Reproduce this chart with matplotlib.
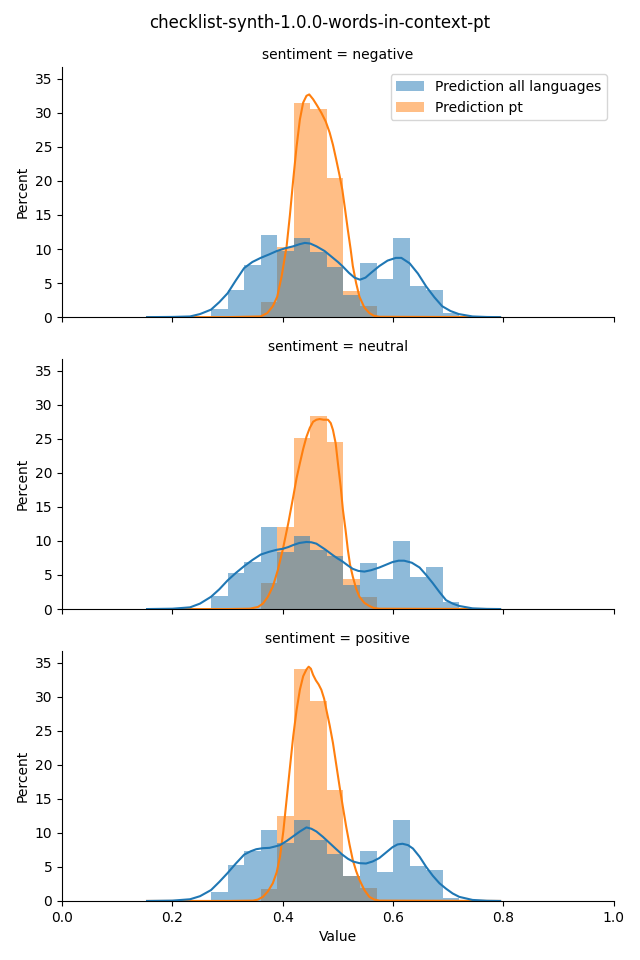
import numpy as np
import matplotlib
matplotlib.use("Agg")
import matplotlib.pyplot as plt
from matplotlib.patches import Patch

# shared histogram bins (width 0.03 from 0.27 to 0.72)
bin_edges = [0.27, 0.30, 0.33, 0.36, 0.39, 0.42, 0.45, 0.48, 0.51,
             0.54, 0.57, 0.60, 0.63, 0.66, 0.69, 0.72]

panels = ["negative", "neutral", "positive"]
series_labels = ["Prediction all languages", "Prediction pt"]

# percent per bin
all_neg = [1.2, 4.0, 7.7, 12.0, 9.7, 11.6, 9.5, 7.3, 3.2, 8.0, 5.6, 11.6, 4.5, 4.0, 0.6]
pt_neg = [0, 0, 0, 2.2, 10.3, 31.5, 30.5, 20.5, 3.8, 1.6, 0, 0, 0, 0, 0]
all_neu = [1.9, 5.3, 6.9, 12.1, 8.4, 10.7, 8.7, 7.8, 3.6, 6.8, 4.4, 10.0, 4.7, 6.2, 1.0]
pt_neu = [0, 0, 0, 3.8, 12.1, 25.1, 28.4, 24.6, 4.4, 1.7, 0, 0, 0, 0, 0]
all_pos = [1.3, 5.3, 7.4, 10.4, 8.5, 11.9, 9.0, 6.9, 3.7, 7.4, 4.3, 11.9, 5.2, 4.6, 0.4]
pt_pos = [0, 0, 0, 1.8, 12.5, 34.0, 29.4, 16.3, 3.7, 1.9, 0, 0, 0, 0, 0]

# density curves (x, percent)
kde_all_neg_x = [0.154, 0.2, 0.232, 0.25, 0.27, 0.285, 0.30, 0.315, 0.33, 0.345, 0.36, 0.375,
                 0.389, 0.404, 0.419, 0.43, 0.44, 0.45, 0.461, 0.476, 0.491, 0.50, 0.508, 0.52,
                 0.53, 0.54, 0.55, 0.56, 0.575, 0.59, 0.605, 0.615, 0.63, 0.645, 0.66, 0.675,
                 0.689, 0.704, 0.719, 0.744, 0.77, 0.794]
kde_all_neg_y = [0, 0.03, 0.1, 0.45, 1.1, 2.2, 3.5, 5.4, 7.2, 8.1, 8.7, 9.2,
                 9.7, 10.1, 10.4, 10.7, 10.9, 10.8, 10.4, 9.7, 8.7, 8.1, 7.5, 6.5,
                 5.8, 5.5, 5.8, 6.5, 7.5, 8.3, 8.7, 8.7, 7.9, 6.4, 4.5, 2.9,
                 1.6, 0.9, 0.45, 0.1, 0.02, 0]
kde_pt_neg_x = [0.154, 0.30, 0.36, 0.372, 0.382, 0.39, 0.398, 0.407, 0.413, 0.419, 0.425,
                0.431, 0.437, 0.443, 0.448, 0.455, 0.462, 0.47, 0.478, 0.485, 0.491, 0.497,
                0.503, 0.508, 0.513, 0.518, 0.523, 0.527, 0.533, 0.539, 0.548, 0.557, 0.565,
                0.575, 0.794]
kde_pt_neg_y = [0, 0, 0.1, 0.6, 1.6, 3.0, 6.0, 10.4, 15.0, 20.2, 25.0,
                29.0, 31.5, 32.5, 32.7, 32.0, 31.1, 30.0, 28.7, 27.1, 25.3, 23.1,
                20.8, 18.7, 15.8, 12.8, 10.0, 7.5, 5.0, 3.0, 1.4, 0.6, 0.2,
                0.05, 0]

kde_all_neu_x = [0.154, 0.2, 0.232, 0.25, 0.27, 0.285, 0.30, 0.315, 0.33, 0.345, 0.36, 0.375,
                 0.389, 0.40, 0.41, 0.419, 0.43, 0.443, 0.452, 0.461, 0.476, 0.491, 0.50,
                 0.508, 0.518, 0.527, 0.537, 0.548, 0.56, 0.575, 0.587, 0.599, 0.61, 0.62,
                 0.634, 0.648, 0.66, 0.672, 0.684, 0.696, 0.708, 0.72, 0.744, 0.77, 0.794]
kde_all_neu_y = [0, 0.05, 0.25, 0.8, 1.8, 2.9, 4.2, 5.3, 6.3, 7.2, 8.0, 8.4,
                 8.7, 8.85, 9.1, 9.4, 9.7, 9.85, 9.8, 9.6, 8.8, 7.9, 7.4,
                 7.0, 6.4, 5.9, 5.6, 5.5, 5.7, 6.1, 6.5, 6.9, 7.1, 7.1,
                 6.8, 6.1, 5.0, 3.8, 2.5, 1.3, 0.8, 0.45, 0.1, 0.02, 0]
kde_pt_neu_x = [0.154, 0.30, 0.34, 0.355, 0.364, 0.373, 0.382, 0.391, 0.40, 0.41, 0.419,
                0.425, 0.431, 0.437, 0.443, 0.449, 0.455, 0.461, 0.467, 0.474, 0.482, 0.487,
                0.491, 0.496, 0.50, 0.505, 0.509, 0.514, 0.518, 0.522, 0.527, 0.533, 0.539,
                0.548, 0.557, 0.565, 0.575, 0.794]
kde_pt_neu_y = [0, 0, 0.05, 0.3, 0.8, 1.8, 3.3, 5.7, 8.7, 12.6, 16.5,
                19.2, 21.4, 23.5, 25.3, 26.6, 27.5, 27.8, 27.9, 27.8, 27.8, 27.3,
                26.3, 24.3, 21.4, 18.0, 14.6, 11.5, 8.7, 6.5, 4.75, 3.0, 1.8,
                0.9, 0.45, 0.15, 0.05, 0]

kde_all_pos_x = [0.154, 0.2, 0.232, 0.25, 0.27, 0.285, 0.30, 0.315, 0.33, 0.342, 0.352, 0.364,
                 0.376, 0.386, 0.395, 0.407, 0.419, 0.431, 0.443, 0.452, 0.461, 0.473, 0.485,
                 0.497, 0.508, 0.518, 0.527, 0.539, 0.551, 0.563, 0.575, 0.587, 0.599, 0.608,
                 0.617, 0.627, 0.636, 0.648, 0.66, 0.672, 0.684, 0.696, 0.708, 0.72, 0.744,
                 0.77, 0.794]
kde_all_pos_y = [0, 0.05, 0.25, 0.7, 1.6, 2.8, 4.1, 5.5, 6.8, 7.3, 7.6, 7.75,
                 7.8, 8.0, 8.2, 8.8, 9.5, 10.2, 10.8, 10.6, 10.2, 9.4, 8.5,
                 7.6, 6.8, 6.2, 5.8, 5.55, 5.5, 5.8, 6.3, 7.1, 7.9, 8.3,
                 8.4, 8.2, 7.7, 6.5, 5.0, 3.7, 2.6, 1.8, 1.1, 0.6, 0.15,
                 0.03, 0]
kde_pt_pos_x = [0.154, 0.30, 0.346, 0.355, 0.364, 0.373, 0.382, 0.389, 0.395, 0.401, 0.407,
                0.413, 0.419, 0.425, 0.431, 0.437, 0.443, 0.447, 0.451, 0.455, 0.46, 0.465,
                0.47, 0.475, 0.479, 0.485, 0.491, 0.497, 0.503, 0.509, 0.515, 0.521, 0.527,
                0.533, 0.539, 0.548, 0.557, 0.566, 0.575, 0.794]
kde_pt_pos_y = [0, 0, 0.05, 0.2, 0.6, 1.4, 2.6, 4.2, 6.5, 10.2, 14.9,
                19.6, 24.2, 28.0, 31.0, 33.0, 34.0, 34.4, 34.1, 33.2, 32.4, 31.8,
                31.0, 29.7, 28.1, 25.8, 23.2, 20.0, 16.8, 13.8, 10.9, 8.3, 6.0,
                4.4, 3.1, 1.6, 0.6, 0.2, 0.05, 0]

hist_all = [all_neg, all_neu, all_pos]
hist_pt = [pt_neg, pt_neu, pt_pos]
kde_all = [(kde_all_neg_x, kde_all_neg_y), (kde_all_neu_x, kde_all_neu_y), (kde_all_pos_x, kde_all_pos_y)]
kde_pt = [(kde_pt_neg_x, kde_pt_neg_y), (kde_pt_neu_x, kde_pt_neu_y), (kde_pt_pos_x, kde_pt_pos_y)]

blue = "#1f77b4"
orange = "#ff7f0e"

fig, axes = plt.subplots(3, 1, figsize=(6.4, 9.6), dpi=100, sharex=True, sharey=True)
fig.subplots_adjust(left=0.097, right=0.959, bottom=0.0615, top=0.930, hspace=0.168)

lefts = bin_edges[:-1]
widths = np.diff(bin_edges)

for i, ax in enumerate(axes):
    # orange first so the blue layer sits on top (grey overlap)
    ax.bar(lefts, hist_pt[i], width=widths, align="edge", color=orange, alpha=0.5, linewidth=0)
    ax.bar(lefts, hist_all[i], width=widths, align="edge", color=blue, alpha=0.5, linewidth=0)
    ax.plot(kde_pt[i][0], kde_pt[i][1], color=orange, lw=1.5)
    ax.plot(kde_all[i][0], kde_all[i][1], color=blue, lw=1.5)

    ax.set_title(f"sentiment = {panels[i]}", fontsize=10)
    ax.set_ylabel("Percent")
    ax.spines["top"].set_visible(False)
    ax.spines["right"].set_visible(False)
    ax.tick_params(axis="x", labelbottom=(i == 2))

axes[0].set_xlim(0, 1)
axes[0].set_ylim(0, 36.7)
axes[0].set_yticks([0, 5, 10, 15, 20, 25, 30, 35])
axes[2].set_xlabel("Value")

handles = [Patch(facecolor=blue, alpha=0.5), Patch(facecolor=orange, alpha=0.5)]
axes[0].legend(handles, series_labels, loc="upper right")

fig.suptitle("checklist-synth-1.0.0-words-in-context-pt", y=0.985)

plt.savefig("out.png")
